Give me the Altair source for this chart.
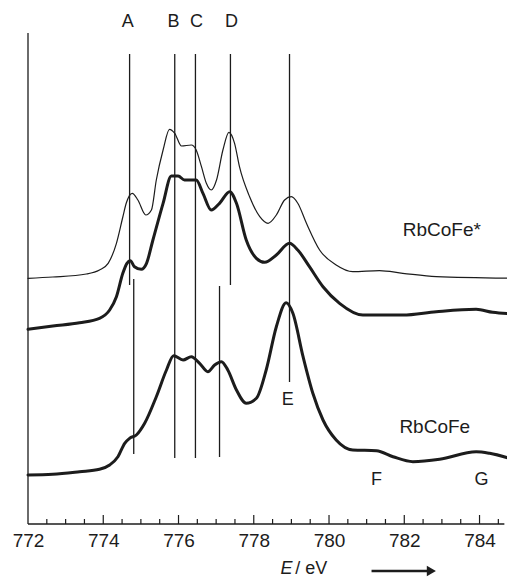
import altair as alt
import pandas as pd

# ---- data (x: energy / eV, y: intensity, arbitrary units) ----
star_E = [772.0, 772.66, 773.55, 773.90, 774.13, 774.35, 774.52, 774.61, 774.77, 774.92,
          775.13, 775.28, 775.41, 775.59, 775.76, 775.90, 776.08, 776.34, 776.47, 776.61,
          776.74, 776.87, 777.01, 777.18, 777.34, 777.49, 777.62, 777.89, 778.16, 778.38,
          778.60, 778.82, 779.00, 779.17, 779.40, 779.75, 780.19, 780.63, 781.34, 781.96,
          782.85, 784.93]
star_I = [245.7, 247, 250, 254, 260.7, 280.7, 307, 320.7, 330.7, 324,
          309, 314, 344, 374, 394.7, 390.7, 378, 379, 374, 357.3,
          340.7, 334, 344, 374, 391.7, 380.7, 357.3, 327.3, 307.3, 300.7,
          309, 324, 327.3, 320.7, 300.7, 274, 259, 252.3, 253.3, 250.7,
          247.3, 245.7]

mid_E = [772.0, 772.66, 773.37, 773.90, 774.17, 774.35, 774.52, 774.63, 774.72, 774.83,
         775.01, 775.15, 775.32, 775.59, 775.81, 775.99, 776.16, 776.47, 776.65, 776.87,
         777.09, 777.36, 777.54, 777.80, 778.07, 778.29, 778.60, 778.95, 779.17, 779.48,
         779.84, 780.28, 780.90, 781.96, 782.85, 783.91, 784.35, 784.93]
mid_I = [194.7, 198, 201.3, 205.7, 214, 227.3, 250.7, 260.7, 263.3, 257.3,
         254.7, 260.7, 284, 320.7, 348, 348, 344, 344, 330.7, 314,
         320.7, 332.3, 320.7, 284, 265.7, 261.7, 269, 280.7, 274, 257.3,
         237.3, 220.7, 209, 209, 212.3, 214.7, 211.7, 210]

low_E = [772.0, 772.66, 773.37, 773.90, 774.17, 774.39, 774.57, 774.70, 774.88, 775.10,
         775.41, 775.68, 775.87, 776.12, 776.34, 776.56, 776.78, 776.96, 777.14, 777.31,
         777.54, 777.80, 778.07, 778.33, 778.60, 778.86, 779.04, 779.31, 779.57, 779.84,
         780.19, 780.63, 781.26, 781.70, 782.23, 782.94, 783.91, 784.27, 784.93]
low_I = [49, 49.7, 52.3, 54.7, 59, 67.3, 80.7, 85.7, 89, 100.7,
         127.3, 154, 168.3, 164, 167.3, 160.7, 152.3, 159, 162.3, 154,
         134, 120.7, 125.7, 154, 197.3, 221.3, 210.7, 167.3, 130.7, 104,
         84, 74, 73.3, 67.3, 62.3, 64.7, 72.3, 70.7, 64]

# marker lines: energy, lower end, upper end
marker_E = [774.70, 775.90, 776.45, 777.38, 778.95, 774.81, 777.09]
marker_lo = [239, 66, 66, 239, 142, 70, 67]
marker_hi = [470, 470, 470, 470, 470, 245, 238]

# letter labels
letter_txt = ["A", "B", "C", "D", "E", "F", "G"]
letter_E = [774.65, 775.87, 776.48, 777.41, 778.90, 781.26, 784.05]
letter_I = [502, 502, 502, 502, 124, 44, 44]

# sample labels
sample_txt = ["RbCoFe*", "RbCoFe"]
sample_E = [781.96, 781.87]
sample_I = [294, 97]

tick_labels = [772, 774, 776, 778, 780, 782, 784]
minor_ticks = [772.5, 773.0, 773.5, 774.5, 775.0, 775.5, 776.5, 777.0, 777.5, 778.5,
               779.0, 779.5, 780.5, 781.0, 781.5, 782.5, 783.0, 783.5, 784.5]
major_ticks = [774, 776, 778, 780, 782, 784]

FONT = "Liberation Sans"
INK = "#1c1c1c"
W, H = 479, 516

xs = alt.Scale(domain=[772, 784.73], nice=False, zero=False)
ys = alt.Scale(domain=[0, 516], nice=False, zero=False)

xax = alt.Axis(values=tick_labels, ticks=False, domain=False, grid=False,
               labelFontSize=19, labelFont=FONT, labelColor=INK, labelPadding=7,
               labelFlush=False, labelOverlap=False, title=None, format="d")


def X(f):
    return alt.X(f, type="quantitative", scale=xs, axis=xax)


def Y(f):
    return alt.Y(f, type="quantitative", scale=ys, axis=None)


def curve(E, I, w):
    df = pd.DataFrame({"E": E, "I": I})
    return alt.Chart(df).mark_line(color=INK, strokeWidth=w, interpolate="monotone",
                                   strokeJoin="round", strokeCap="round").encode(
        x=X("E"), y=Y("I"))


c_star = curve(star_E, star_I, 1.2)
c_mid = curve(mid_E, mid_I, 3.0)
c_low = curve(low_E, low_I, 3.0)

mk = pd.DataFrame({"E": marker_E, "lo": marker_lo, "hi": marker_hi})
markers = alt.Chart(mk).mark_rule(color=INK, strokeWidth=1.3).encode(
    x=X("E"), y=Y("lo"), y2=alt.Y2("hi"))

frame_v = alt.Chart(pd.DataFrame({"E": [772.0], "lo": [0], "hi": [491]})).mark_rule(
    color=INK, strokeWidth=1.3).encode(x=X("E"), y=Y("lo"), y2=alt.Y2("hi"))
frame_h = alt.Chart(pd.DataFrame({"E": [772.0], "b": [784.66], "I": [0]})).mark_rule(
    color=INK, strokeWidth=1.3).encode(x=X("E"), x2=alt.X2("b"), y=Y("I"))

tk_min = alt.Chart(pd.DataFrame({"E": minor_ticks, "lo": [0] * len(minor_ticks),
                                 "hi": [5] * len(minor_ticks)})).mark_rule(
    color=INK, strokeWidth=1.2).encode(x=X("E"), y=Y("lo"), y2=alt.Y2("hi"))
tk_maj = alt.Chart(pd.DataFrame({"E": major_ticks, "lo": [0] * len(major_ticks),
                                 "hi": [9] * len(major_ticks)})).mark_rule(
    color=INK, strokeWidth=1.2).encode(x=X("E"), y=Y("lo"), y2=alt.Y2("hi"))

lt = pd.DataFrame({"t": letter_txt, "E": letter_E, "I": letter_I})
letters = alt.Chart(lt).mark_text(font=FONT, fontSize=18, color=INK, align="center",
                                  baseline="middle").encode(
    x=X("E"), y=Y("I"), text="t:N")

st = pd.DataFrame({"t": sample_txt, "E": sample_E, "I": sample_I})
samples = alt.Chart(st).mark_text(font=FONT, fontSize=19, color=INK, align="left",
                                  baseline="middle").encode(
    x=X("E"), y=Y("I"), text="t:N")

t_E = alt.Chart(pd.DataFrame({"t": ["E"], "E": [778.87], "I": [-45]})).mark_text(
    font=FONT, fontSize=18, fontStyle="italic", color=INK, align="center",
    baseline="middle").encode(x=X("E"), y=Y("I"), text="t:N")
t_eV = alt.Chart(pd.DataFrame({"t": ["/ eV"], "E": [779.10], "I": [-45]})).mark_text(
    font=FONT, fontSize=18, color=INK, align="left", baseline="middle").encode(
    x=X("E"), y=Y("I"), text="t:N")
arrow_line = alt.Chart(pd.DataFrame({"E": [781.13], "b": [782.62], "I": [-47]})).mark_rule(
    color=INK, strokeWidth=2.6).encode(x=X("E"), x2=alt.X2("b"), y=Y("I"))
arrow_head = alt.Chart(pd.DataFrame({"E": [782.72], "I": [-47]})).mark_point(
    shape="triangle-right", filled=True, color=INK, size=110, opacity=1).encode(
    x=X("E"), y=Y("I"))

chart = alt.layer(
    frame_v, frame_h, tk_min, tk_maj, markers, c_star, c_mid, c_low,
    letters, samples, t_E, t_eV, arrow_line, arrow_head
).properties(
    width=W, height=H,
    autosize=alt.AutoSizeParams(type="none"),
    padding={"left": 20, "top": 0, "right": 0, "bottom": 56},
    background="white",
).configure_view(stroke=None)

chart.save("out.html", embed_options={"renderer": "svg", "actions": False})
